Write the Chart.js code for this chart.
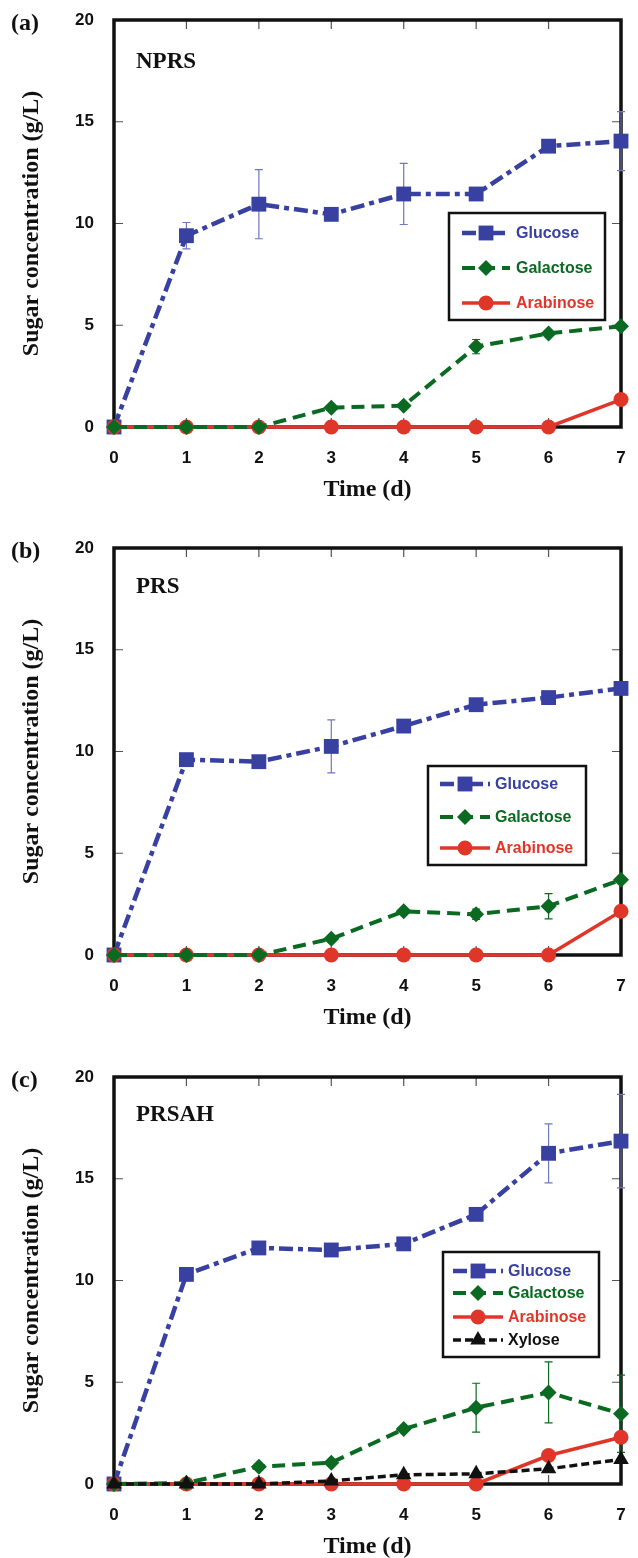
<!DOCTYPE html>
<html>
<head>
<meta charset="utf-8">
<script src="https://cdn.jsdelivr.net/npm/chart.js@4.4.1/dist/chart.umd.min.js"></script>
<style>
  body { margin: 0; background: #fff; width: 638px; height: 1558px; position: relative; overflow: hidden; }
  .panel { position: absolute; left: 0; width: 638px; height: 528px; }
  .panel canvas { display: block; }
</style>
</head>
<body>
<div class="panel" style="top:0"><canvas id="chartA" width="638" height="528"></canvas></div>
<div class="panel" style="top:528px"><canvas id="chartB" width="638" height="528"></canvas></div>
<div class="panel" style="top:1057px"><canvas id="chartC" width="638" height="528"></canvas></div>
<script>
// sampling days
const days = [0, 1, 2, 3, 4, 5, 6, 7];

// (a) NPRS
const nprsGlucose = [0, 9.4, 10.95, 10.45, 11.45, 11.45, 13.8, 14.05];
const nprsGlucoseErr = [0, 0.65, 1.7, 0, 1.5, 0, 0.3, 1.45];
const nprsGalactose = [0, 0, 0, 0.95, 1.05, 3.95, 4.6, 4.95];
const nprsGalactoseErr = [0, 0, 0, 0, 0, 0.35, 0, 0];
const nprsArabinose = [0, 0, 0, 0, 0, 0, 0, 1.35];

// (b) PRS
const prsGlucose = [0, 9.6, 9.5, 10.25, 11.25, 12.3, 12.65, 13.1];
const prsGlucoseErr = [0, 0, 0, 1.3, 0, 0, 0, 0];
const prsGalactose = [0, 0, 0, 0.8, 2.15, 2.0, 2.4, 3.7];
const prsGalactoseErr = [0, 0, 0, 0, 0, 0.25, 0.62, 0];
const prsArabinose = [0, 0, 0, 0, 0, 0, 0, 2.15];

// (c) PRSAH
const prsahGlucose = [0, 10.3, 11.6, 11.5, 11.8, 13.25, 16.25, 16.85];
const prsahGlucoseErr = [0, 0, 0, 0, 0, 0, 1.45, 2.3];
const prsahGalactose = [0, 0.05, 0.85, 1.05, 2.7, 3.75, 4.5, 3.45];
const prsahGalactoseErr = [0, 0, 0, 0, 0, 1.2, 1.5, 1.9];
const prsahArabinose = [0, 0, 0, 0, 0, 0, 1.4, 2.3];
const prsahXylose = [0, 0, 0, 0.15, 0.45, 0.5, 0.75, 1.2];

const BLUE = '#3840a2';
const GREEN = '#0b6a22';
const RED = '#e0362a';
const BLACK = '#111111';
const SANS = "'Liberation Sans', Arial, sans-serif";
const SERIF = "'Liberation Serif', 'Times New Roman', serif";

const toPoints = (vals) => days.map((d, i) => ({ x: d, y: vals[i] }));

function glucoseSet(vals, errs) {
  return { label: 'Glucose', data: toPoints(vals), errors: errs, errColor: '#6f77bd',
    borderColor: BLUE, backgroundColor: BLUE, borderWidth: 4.5, borderDash: [14, 5, 5, 5],
    pointStyle: 'rect', pointRadius: 10.5, pointBorderWidth: 0, order: 4 };
}
function galactoseSet(vals, errs) {
  return { label: 'Galactose', data: toPoints(vals), errors: errs, errColor: GREEN,
    borderColor: GREEN, backgroundColor: GREEN, borderWidth: 4, borderDash: [13, 7],
    pointStyle: 'rectRot', pointRadius: 8, pointBorderWidth: 0, order: 2 };
}
function arabinoseSet(vals) {
  return { label: 'Arabinose', data: toPoints(vals),
    borderColor: RED, backgroundColor: RED, borderWidth: 3.5,
    pointStyle: 'circle', pointRadius: 7.5, pointBorderWidth: 0, order: 3 };
}
function xyloseSet(vals) {
  return { label: 'Xylose', data: toPoints(vals),
    borderColor: BLACK, backgroundColor: BLACK, borderWidth: 3.5, borderDash: [8, 4],
    pointStyle: 'triangle', pointRadius: 9, pointBorderWidth: 0, order: 1 };
}

// frame + inward tick marks on all four sides
const frameTicks = {
  id: 'frameTicks',
  beforeDatasetsDraw(chart) {
    const { ctx, chartArea: a, scales: { x, y } } = chart;
    ctx.save();
    ctx.strokeStyle = '#555';
    ctx.lineWidth = 1.2;
    ctx.beginPath();
    x.ticks.forEach(t => {
      if (t.value <= x.min || t.value >= x.max) return;
      const px = x.getPixelForValue(t.value);
      ctx.moveTo(px, a.top); ctx.lineTo(px, a.top + 9);
      ctx.moveTo(px, a.bottom); ctx.lineTo(px, a.bottom - 9);
    });
    y.ticks.forEach(t => {
      if (t.value <= y.min || t.value >= y.max) return;
      const py = y.getPixelForValue(t.value);
      ctx.moveTo(a.left, py); ctx.lineTo(a.left + 9, py);
      ctx.moveTo(a.right, py); ctx.lineTo(a.right - 9, py);
    });
    ctx.stroke();
    ctx.strokeStyle = '#111';
    ctx.lineWidth = 3.5;
    ctx.strokeRect(a.left, a.top, a.width, a.height);
    ctx.restore();
  }
};

// vertical error bars read from dataset.errors
const errorBars = {
  id: 'errorBars',
  beforeDatasetsDraw(chart) {
    const { ctx, scales: { x, y } } = chart;
    ctx.save();
    ctx.lineWidth = 1.2;
    chart.data.datasets.forEach(ds => {
      if (!ds.errors) return;
      ctx.strokeStyle = ds.errColor;
      ds.data.forEach((p, i) => {
        const e = ds.errors[i];
        if (!e) return;
        const px = x.getPixelForValue(p.x);
        const top = y.getPixelForValue(p.y + e);
        const bot = y.getPixelForValue(p.y - e);
        ctx.beginPath();
        ctx.moveTo(px, top); ctx.lineTo(px, bot);
        ctx.moveTo(px - 4, top); ctx.lineTo(px + 4, top);
        ctx.moveTo(px - 4, bot); ctx.lineTo(px + 4, bot);
        ctx.stroke();
      });
    });
    ctx.restore();
  }
};

// boxed legend with line + marker samples
const boxLegend = {
  id: 'boxLegend',
  afterDatasetsDraw(chart, args, opts) {
    const { ctx } = chart;
    const [bx, by, bw, bh] = opts.box;
    ctx.save();
    ctx.fillStyle = '#fff';
    ctx.fillRect(bx, by, bw, bh);
    ctx.strokeStyle = '#111';
    ctx.lineWidth = 2.5;
    ctx.strokeRect(bx, by, bw, bh);
    chart.data.datasets.forEach((ds, i) => {
      const ry = opts.rows[i];
      ctx.save();
      ctx.strokeStyle = ds.borderColor;
      ctx.lineWidth = ds.borderWidth;
      ctx.setLineDash(ds.borderDash || []);
      ctx.beginPath();
      ctx.moveTo(opts.lineX[0], ry);
      ctx.lineTo(opts.lineX[1], ry);
      ctx.stroke();
      ctx.restore();
      ctx.fillStyle = ds.backgroundColor;
      Chart.helpers.drawPoint(ctx, { pointStyle: ds.pointStyle, radius: ds.pointRadius, rotation: 0, borderWidth: 0 }, opts.markX, ry);
      ctx.fillStyle = ds.borderColor;
      ctx.font = 'bold 16px ' + SANS;
      ctx.textBaseline = 'middle';
      ctx.textAlign = 'left';
      ctx.fillText(ds.label, opts.textX, ry + 1);
    });
    ctx.restore();
  }
};

// panel letter and sample name
const panelTags = {
  id: 'panelTags',
  afterDraw(chart, args, opts) {
    const { ctx } = chart;
    ctx.save();
    ctx.fillStyle = '#111';
    ctx.font = 'bold 24px ' + SERIF;
    ctx.textBaseline = 'alphabetic';
    ctx.fillText(opts.letter, 11, 30);
    ctx.font = 'bold 23px ' + SERIF;
    ctx.fillText(opts.name, 136, opts.nameY);
    ctx.restore();
  }
};

function makeChart(id, datasets, tags, legendOpts) {
  return new Chart(document.getElementById(id), {
    type: 'line',
    data: { datasets },
    plugins: [frameTicks, errorBars, boxLegend, panelTags],
    options: {
      responsive: false,
      animation: false,
      events: [],
      layout: { padding: { top: 20, right: 17, left: 0, bottom: 0 } },
      datasets: { line: { clip: false, tension: 0, fill: false } },
      plugins: {
        legend: { display: false },
        tooltip: { enabled: false },
        boxLegend: legendOpts,
        panelTags: tags
      },
      scales: {
        x: {
          type: 'linear', min: 0, max: 7,
          grid: { display: false }, border: { display: false },
          ticks: { stepSize: 1, padding: 13, color: '#111', font: { family: SANS, weight: 'bold', size: 17 } },
          title: { display: true, text: 'Time (d)', color: '#111', padding: { top: 0, bottom: 24 },
            font: { family: SERIF, weight: 'bold', size: 24 } },
          afterFit(s) { s.height = 101; s.paddingLeft = 0; s.paddingRight = 0; }
        },
        y: {
          min: 0, max: 20,
          grid: { display: false }, border: { display: false },
          ticks: { stepSize: 5, padding: 12, color: '#111', font: { family: SANS, weight: 'bold', size: 17 } },
          title: { display: true, text: 'Sugar concentration (g/L)', color: '#111', padding: { top: 17, bottom: 0 },
            font: { family: SERIF, weight: 'bold', size: 24 } },
          afterFit(s) { s.width = 114; s.paddingTop = 0; s.paddingBottom = 0; }
        }
      }
    }
  });
}

makeChart('chartA',
  [glucoseSet(nprsGlucose, nprsGlucoseErr), galactoseSet(nprsGalactose, nprsGalactoseErr), arabinoseSet(nprsArabinose)],
  { letter: '(a)', name: 'NPRS', nameY: 68 },
  { box: [449, 213, 156, 107], rows: [233, 268, 303], lineX: [462, 510], markX: 486, textX: 516 });

makeChart('chartB',
  [glucoseSet(prsGlucose, prsGlucoseErr), galactoseSet(prsGalactose, prsGalactoseErr), arabinoseSet(prsArabinose)],
  { letter: '(b)', name: 'PRS', nameY: 65 },
  { box: [428, 238, 158, 99], rows: [256, 289, 320], lineX: [440, 490], markX: 465, textX: 495 });

makeChart('chartC',
  [glucoseSet(prsahGlucose, prsahGlucoseErr), galactoseSet(prsahGalactose, prsahGalactoseErr), arabinoseSet(prsahArabinose), xyloseSet(prsahXylose)],
  { letter: '(c)', name: 'PRSAH', nameY: 64 },
  { box: [443, 195, 156, 105], rows: [214, 236, 260, 283], lineX: [453, 503], markX: 478, textX: 508 });
</script>
</body>
</html>
